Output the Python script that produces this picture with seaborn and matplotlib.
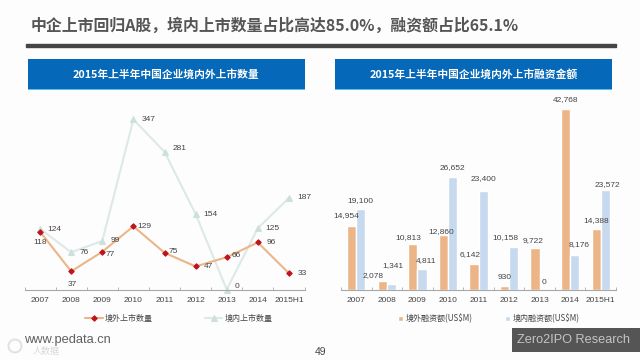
import matplotlib
matplotlib.use("Agg")
import matplotlib.pyplot as plt
import pandas as pd
import seaborn as sns
from matplotlib.patches import Ellipse, Rectangle

sns.set_theme(style="white")
plt.rcParams["font.family"] = ["Noto Sans CJK SC", "DejaVu Sans"]

# DONNEES --------------------------------

years = ["2007", "2008", "2009", "2010", "2011", "2012", "2013", "2014", "2015H1"]
overseas_count = [118, 37, 77, 129, 75, 47, 66, 96, 33]
domestic_count = [124, 76, 99, 347, 281, 154, 0, 125, 187]
overseas_amount = [14954, 2078, 10813, 12860, 6142, 930, 9722, 42768, 14388]
domestic_amount = [19100, 1341, 4811, 26652, 23400, 10158, 0, 8176, 23572]

title = "中企上市回归A股，境内上市数量占比高达85.0%，融资额占比65.1%"
left_header = "2015年上半年中国企业境内外上市数量"
right_header = "2015年上半年中国企业境内外上市融资金额"
count_names = ["境外上市数量", "境内上市数量"]
amount_names = ["境外融资额(US$M)", "境内融资额(US$M)"]

# decalage des etiquettes, en pixels
overseas_count_offset = [(0, -11), (1, -13), (8, -3), (11, 0), (9, 1), (13, 0), (10, 2), (13, 0), (13, 0)]
domestic_count_offset = [(14, -1), (13, 0), (13, 0), (15, 0), (15, 3), (15, 0), (10, 3), (15, 0), (15, 0)]
overseas_amount_offset = [(-5, 11), (-9, 5), (-5, 6), (-2, 4), (-4, 9), (0, 8), (-2, 8), (0, 9), (0, 8)]
domestic_amount_offset = [(-1, 8), (1, 18), (4, 9), (0, 9), (0, 12), (-8, 9), (0, 7), (4, 10), (2, 5)]

W, H = 640, 360
ORANGE = "#ecb587"
PALE_BLUE = "#c6d9ee"
PALE_GREEN = "#dde9e8"
MARKER_GREEN = "#cde0dd"
RED = "#c0141c"
TEXT = "#444444"
LATIN = ["Liberation Sans", "DejaVu Sans"]


def px_box(x0, y0, x1, y1):
    return [x0 / W, 1 - y1 / H, (x1 - x0) / W, (y1 - y0) / H]


def style_axis(ax):
    sns.despine(ax=ax, left=True)
    ax.spines["bottom"].set_color("#a8a8a8")
    ax.spines["bottom"].set_linewidth(0.8)
    ax.set_xlim(-0.5, 8.5)
    ax.set_xlabel("")
    ax.set_ylabel("")
    ax.set_yticks([])
    ax.set_xticks(range(len(years)), years)
    ax.set_xticks([i - 0.5 for i in range(len(years) + 1)], minor=True)
    ax.tick_params(axis="x", which="major", length=0, pad=5.5, labelsize=6, labelcolor=TEXT)
    ax.tick_params(axis="x", which="minor", bottom=True, direction="in", length=2, width=0.6, color="#a8a8a8")
    ax.patch.set_alpha(0)
    for lab in ax.get_xticklabels():
        lab.set_fontfamily(LATIN)


def put_labels(ax, xs, values, offsets):
    for x, v, (dx, dy) in zip(xs, values, offsets):
        ax.annotate(f"{v:,}", (x, v), xytext=(dx, dy), textcoords="offset pixels",
                    ha="center", va="center", fontsize=6, color=TEXT,
                    family=LATIN, annotation_clip=False)


fig = plt.figure(figsize=(6.4, 3.6), dpi=100, facecolor="#fdfdfd")

# TITRE ET BANDEAUX --------------------------------

fig.text(31 / W, 1 - 26 / H, title, fontsize=11.45, fontweight="bold", color="#555555", va="center")
fig.add_artist(Rectangle((26 / W, 1 - 47 / H), 590 / W, 3.5 / H, color="#454545", transform=fig.transFigure))

for x0, text in [(27.5, left_header), (335, right_header)]:
    fig.add_artist(Rectangle((x0 / W, 1 - 89.5 / H), 277 / W, 30.5 / H, facecolor="#0568b8",
                             edgecolor="none", transform=fig.transFigure))
    fig.add_artist(Rectangle((x0 / W, 1 - 89.5 / H), 277 / W, 1 / H, facecolor="#5cc0ee",
                             edgecolor="none", transform=fig.transFigure))
    fig.text((x0 + 138.5) / W, 1 - 74.5 / H, text, fontsize=7.75, fontweight="bold", color="white",
             ha="center", va="center")

# NOMBRE D'INTRODUCTIONS --------------------------------

ax1 = fig.add_axes(px_box(24.5, 115, 304.5, 289.5))
ax1.set_ylim(0, 174.5 / 0.49)

sns.lineplot(x=years, y=domestic_count, ax=ax1, color=PALE_GREEN, linewidth=1.5, marker="^",
             markersize=4.5, markerfacecolor=MARKER_GREEN, markeredgecolor=MARKER_GREEN,
             label=count_names[1], sort=False, clip_on=False)
sns.lineplot(x=years, y=overseas_count, ax=ax1, color=ORANGE, linewidth=1.5, marker="D",
             markersize=2.8, markerfacecolor=RED, markeredgecolor=RED,
             label=count_names[0], sort=False, clip_on=False)
style_axis(ax1)
put_labels(ax1, range(len(years)), overseas_count, overseas_count_offset)
put_labels(ax1, range(len(years)), domestic_count, domestic_count_offset)

handles, labels = ax1.get_legend_handles_labels()
ax1.legend(handles[::-1], labels[::-1], ncols=2, frameon=False, loc="center left",
           bbox_to_anchor=(85 / W, 1 - 318.5 / H), bbox_transform=fig.transFigure,
           fontsize=5.8, labelcolor=TEXT, handlelength=2.2, handletextpad=0.3,
           columnspacing=6.4, borderpad=0, borderaxespad=0)

# MONTANTS LEVES --------------------------------

amounts = pd.DataFrame({
    "year": years * 2,
    "amount": overseas_amount + domestic_amount,
    "market": [amount_names[0]] * len(years) + [amount_names[1]] * len(years),
})

ax2 = fig.add_axes(px_box(341, 105, 616, 289.5))
ax2.set_ylim(0, 184.5 * 42768 / 180.5)

sns.barplot(data=amounts, x="year", y="amount", hue="market", ax=ax2, width=0.6, gap=0,
            palette=[ORANGE, PALE_BLUE], saturation=1, errorbar=None)
style_axis(ax2)
put_labels(ax2, [i - 0.15 for i in range(len(years))], overseas_amount, overseas_amount_offset)
put_labels(ax2, [i + 0.15 for i in range(len(years))], domestic_amount, domestic_amount_offset)

ax2.legend(ncols=2, frameon=False, loc="center left",
           bbox_to_anchor=(398 / W, 1 - 318.5 / H), bbox_transform=fig.transFigure,
           fontsize=5.8, labelcolor=TEXT, handlelength=0.65, handleheight=0.65, handletextpad=0.3,
           columnspacing=4.0, borderpad=0, borderaxespad=0)

# PIED DE PAGE --------------------------------

fig.text(24 / W, 1 - 340 / H, "www.pedata.cn", fontsize=9.3, color="#606060", va="center", family=LATIN)
fig.add_artist(Ellipse((15 / W, 1 - 346 / H), 13 / W, 13 / H, facecolor="none", edgecolor="#e2e2e2",
                       linewidth=1.5, transform=fig.transFigure))
fig.text(33 / W, 1 - 351.5 / H, "人数据", fontsize=6.5, color="#d8d8d8", va="center")
fig.text(320.5 / W, 1 - 352 / H, "49", fontsize=7.5, color=TEXT, ha="center", va="center", family=LATIN)
fig.add_artist(Rectangle((512 / W, 1 - 351.5 / H), 128 / W, 24 / H, facecolor="#555555",
                         edgecolor="none", transform=fig.transFigure))
fig.text(517 / W, 1 - 340 / H, "Zero2IPO Research", fontsize=9.2, color="#c4c4c4", va="center", family=LATIN)

fig.savefig("out.png", dpi=100, facecolor=fig.get_facecolor())
